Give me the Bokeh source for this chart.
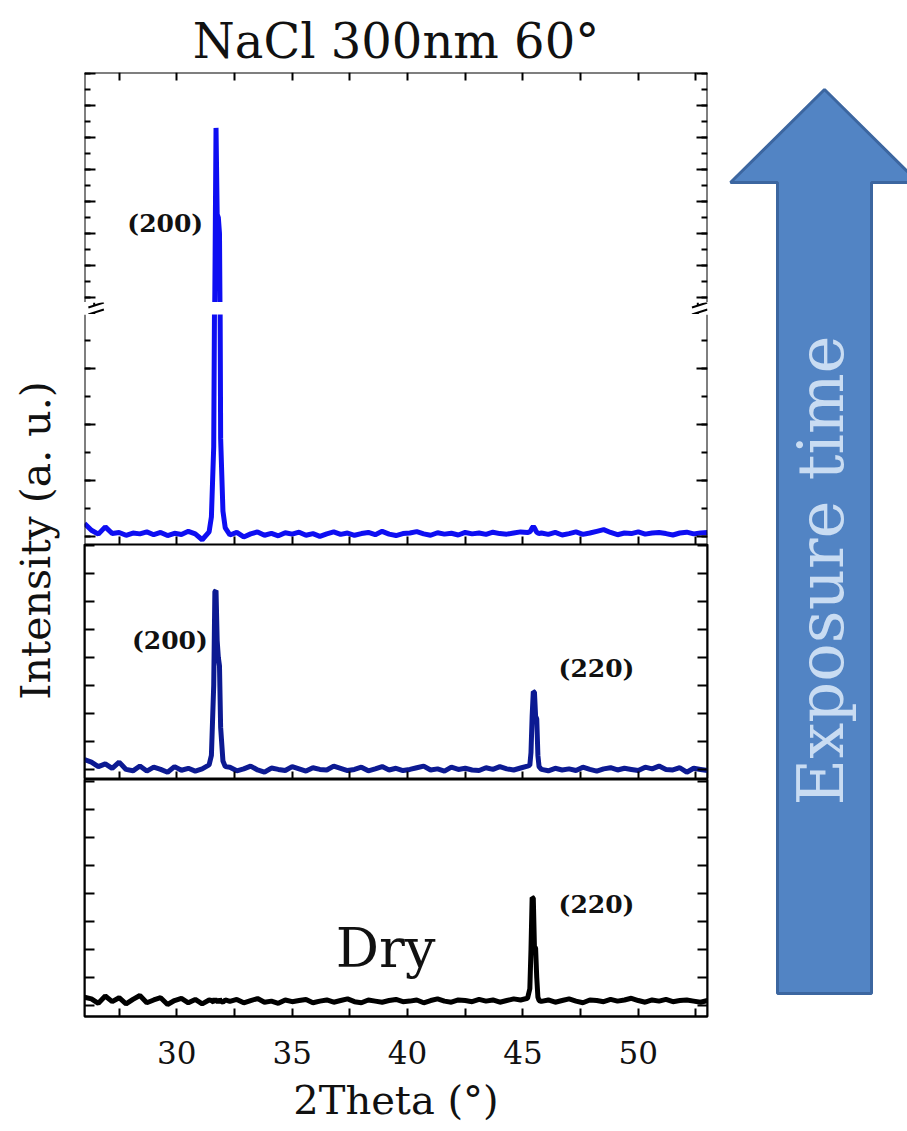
import math
from bokeh.plotting import figure
from bokeh.layouts import row, column
from bokeh.models import (Range1d, LinearAxis, FixedTicker, SingleIntervalTicker,
                          Label, CustomJSTickFormatter, ColumnDataSource)
from bokeh.embed import file_html
from bokeh.resources import INLINE

# ---------------- data ----------------
two_theta = [
    26.0, 26.3, 26.6, 26.9, 27.2, 27.5, 27.8, 28.1, 28.4, 28.7,
    29.0, 29.3, 29.6, 29.9, 30.2, 30.5, 30.8, 31.1, 31.4,
    31.5, 31.6, 31.65, 31.7, 31.75, 31.8, 31.85, 31.9, 32.0, 32.1,
    32.3, 32.6, 32.9, 33.2, 33.5, 33.8, 34.1, 34.4, 34.7, 35.0,
    35.3, 35.6, 35.9, 36.2, 36.5, 36.8, 37.1, 37.4, 37.7, 38.0,
    38.3, 38.6, 38.9, 39.2, 39.5, 39.8, 40.1, 40.4, 40.7, 41.0,
    41.3, 41.6, 41.9, 42.2, 42.5, 42.8, 43.1, 43.4, 43.7, 44.0,
    44.3, 44.6, 44.9, 45.2,
    45.3, 45.35, 45.4, 45.45, 45.5, 45.55, 45.6, 45.65, 45.7,
    45.8, 46.1, 46.4, 46.7, 47.0, 47.3, 47.6, 47.9, 48.2, 48.5,
    48.8, 49.1, 49.4, 49.7, 50.0, 50.3, 50.6, 50.9, 51.2, 51.5,
    51.8, 52.1, 52.4, 52.7, 53.0,
]

intensity_long = [
    46, 22, 8, 34, 10, 14, 4, 12, 9, 16,
    6, 14, 3, 11, 7, 18, 9, -12, 16,
    70, 320, 1050, 2060, 1520, 1500, 1400, 350, 90, 30,
    5, 14, -2, 9, 16, 4, 11, 2, 13, 8,
    15, 4, 10, 0, 9, 16, 7, 12, 4, 10,
    14, 6, 18, 8, 3, 10, 12, 17, 9, 4,
    13, 8, 11, 5, 14, 9, 12, 7, 15, 10,
    8, 12, 16, 14,
    16, 22, 30, 36, 30, 22, 15, 12, 10,
    12, 7, 14, 5, 10, 16, 7, 12, 18, 24,
    14, 6, 12, 10, 16, 8, 12, 14, 10, 5,
    12, 15, 9, 12, 14,
]

intensity_mid = [
    135, 126, 110, 120, 104, 126, 100, 95, 112, 94,
    108, 100, 90, 110, 97, 104, 94, 102, 116,
    150, 400, 735, 739, 560, 500, 470, 250, 130, 110,
    108, 95, 102, 112, 98, 90, 105, 100, 96, 110,
    102, 94, 106, 100, 98, 112, 104, 96, 100, 108,
    95, 102, 110, 98, 104, 96, 100, 106, 112, 98,
    102, 94, 108, 100, 104, 98, 96, 106, 100, 110,
    102, 98, 105, 112,
    115, 160, 290, 378, 376, 290, 280, 150, 110,
    100, 95, 104, 98, 102, 96, 108, 100, 94, 102,
    106, 98, 104, 100, 96, 108, 102, 112, 100, 98,
    106, 90, 104, 100, 96,
]

intensity_dry = [
    130, 124, 108, 134, 114, 128, 106, 122, 136, 110,
    120, 128, 104, 118, 126, 110, 122, 106, 120,
    118, 112, 125, 115, 120, 110, 124, 116, 112, 120,
    115, 122, 110, 118, 125, 112, 116, 108, 120, 114,
    118, 122, 110, 116, 120, 112, 118, 124, 114, 110,
    120, 116, 112, 118, 122, 114, 116, 120, 110, 118,
    124, 116, 112, 120, 118, 114, 122, 116, 120, 112,
    118, 124, 120, 126,
    160, 300, 486, 484, 310, 305, 200, 130, 118,
    115, 120, 112, 118, 124, 116, 110, 120, 118, 114,
    122, 116, 120, 126, 118, 112, 120, 116, 122, 114,
    118, 120, 116, 112, 118,
]

x_major_ticks = [30, 35, 40, 45, 50]
x_minor_ticks = [27.5, 32.5, 37.5, 42.5, 47.5, 52.5]

title_text = "NaCl 300nm 60°"
x_label = "2Theta (°)"
y_label = "Intensity (a. u.)"
arrow_text = "Exposure time"

src = ColumnDataSource(dict(x=two_theta, top=intensity_long, mid=intensity_mid, dry=intensity_dry))

# ---------------- styling / geometry ----------------
SERIF = "DejaVu Serif"
X0, X1 = 26, 53
FRAME_W = 623
SIDE = 10
PX = FRAME_W / (X1 - X0)          # pixels per degree
BLUE = "#0E0EF2"
NAVY = "#0C1A92"
LW = 5

blank = CustomJSTickFormatter(code="return ''")
x_ticker = FixedTicker(ticks=x_major_ticks, minor_ticks=x_minor_ticks)


def base_fig(height, yrng, top=0, bottom=0):
    p = figure(width=FRAME_W + 2 * SIDE, height=height,
               x_range=Range1d(X0, X1), y_range=Range1d(*yrng),
               output_backend="svg", toolbar_location=None,
               x_axis_location=None, y_axis_location=None,
               min_border_left=SIDE, min_border_right=SIDE,
               min_border_top=top, min_border_bottom=bottom)
    p.xgrid.visible = False
    p.ygrid.visible = False
    p.outline_line_color = None
    p.background_fill_color = "white"
    p.border_fill_color = "white"
    return p


def add_y_axes(p, ticker, tin_major, tin_minor, line=True):
    for loc, side in ((X0, "left"), (X1, "right")):
        ax = LinearAxis(ticker=ticker, formatter=blank, fixed_location=loc,
                        major_tick_in=tin_major, major_tick_out=0,
                        minor_tick_in=tin_minor, minor_tick_out=0,
                        major_tick_line_width=2, minor_tick_line_width=2,
                        major_tick_line_color="black", minor_tick_line_color="black",
                        axis_line_width=2,
                        axis_line_color="black" if line else None)
        p.add_layout(ax, side)


def add_x_axis(p, side, loc, line=True):
    ax = LinearAxis(ticker=x_ticker, formatter=blank, fixed_location=loc,
                    major_tick_in=8, major_tick_out=0,
                    minor_tick_in=8, minor_tick_out=0,
                    major_tick_line_width=2, minor_tick_line_width=2,
                    axis_line_width=2,
                    axis_line_color="black" if line else None)
    p.add_layout(ax, side)


def peak_label(p, x, y, text):
    p.add_layout(Label(x=x, y=y, text=text, text_font=SERIF, text_font_style="bold",
                       text_font_size="25px", text_align="center",
                       text_baseline="middle", text_color="#111111"))


# ---- top panel, upper part (above the axis break) ----
up_rng = (968.75, 2406.25)
p_up = base_fig(302, up_rng, top=72)
p_up.title.text = title_text
p_up.title.align = "center"
p_up.title.text_font = SERIF
p_up.title.text_font_size = "48px"
p_up.title.text_font_style = "normal"
p_up.title.text_color = "#111111"
p_up.title.standoff = 8
p_up.line("x", "top", source=src, line_width=LW, color=BLUE)
add_y_axes(p_up, SingleIntervalTicker(interval=200, num_minor_ticks=2), 11, 6)
add_x_axis(p_up, "above", up_rng[1])
peak_label(p_up, 29.5, 1465, "(200)")

# ---- axis break strip ----
gap_h = 12
p_gap = figure(width=FRAME_W + 2 * SIDE, height=gap_h,
               x_range=Range1d(X0 - SIDE / PX, X1 + SIDE / PX), y_range=Range1d(0, gap_h),
               output_backend="svg", toolbar_location=None,
               x_axis_location=None, y_axis_location=None, min_border=0)
p_gap.xgrid.visible = False
p_gap.ygrid.visible = False
p_gap.outline_line_color = None
p_gap.border_fill_color = "white"
for xa in (X0, X1):
    a = xa - 6 / PX
    b = xa + 10 / PX
    p_gap.segment(x0=[a, a], y0=[7.0, 0.0], x1=[b, b], y1=[12.0, 5.0],
                  line_color="black", line_width=2)
    p_gap.segment(x0=[xa, xa], y0=[gap_h, 0], x1=[xa, xa], y1=[8.9, 1.9],
                  line_color="black", line_width=2)

# ---- top panel, lower part ----
low_rng = (-29, 792.4)
p_low = base_fig(230, low_rng)
p_low.line("x", "top", source=src, line_width=LW, color=BLUE)
add_y_axes(p_low, SingleIntervalTicker(interval=200, num_minor_ticks=2), 11, 6)
add_x_axis(p_low, "below", low_rng[0])

# ---- middle panel ----
mid_rng = (64, 903.3)
p_mid = base_fig(235, mid_rng)
p_mid.line("x", "mid", source=src, line_width=LW, color=NAVY)
add_y_axes(p_mid, SingleIntervalTicker(interval=100, num_minor_ticks=0), 10, 0)
add_x_axis(p_mid, "below", mid_rng[0])
peak_label(p_mid, 29.7, 560, "(200)")
peak_label(p_mid, 48.19, 460, "(220)")

# ---- bottom panel (Dry) ----
BOT_BORDER = 115
bot_rng = (61, 907.4)
p_bot = base_fig(237 + BOT_BORDER, bot_rng, bottom=BOT_BORDER)
p_bot.line("x", "dry", source=src, line_width=LW, color="black")
add_y_axes(p_bot, SingleIntervalTicker(interval=100, num_minor_ticks=0), 10, 0)
xb = LinearAxis(ticker=x_ticker, major_tick_in=8, major_tick_out=0,
                minor_tick_in=8, minor_tick_out=0,
                major_tick_line_width=2, minor_tick_line_width=2, axis_line_width=2,
                major_label_standoff=24,
                major_label_text_font=SERIF, major_label_text_font_size="31px",
                major_label_text_color="#111111",
                axis_label=x_label, axis_label_standoff=10,
                axis_label_text_font=SERIF, axis_label_text_font_size="40px",
                axis_label_text_font_style="normal", axis_label_text_color="#111111")
p_bot.add_layout(xb, "below")
peak_label(p_bot, 48.19, 460, "(220)")
p_bot.add_layout(Label(x=39.05, y=304, text="Dry", text_font=SERIF, text_font_size="54px",
                       text_align="center", text_baseline="middle", text_color="#111111"))

# boxes for middle and bottom panels
for p in (p_mid, p_bot):
    p.outline_line_color = "black"
    p.outline_line_width = 2

# ---- y label strip ----
TOTAL_H = 302 + gap_h + 230 + 235 + 237 + BOT_BORDER
YL_W = 74
p_yl = figure(width=YL_W, height=TOTAL_H, x_range=Range1d(0, YL_W), y_range=Range1d(0, TOTAL_H),
              output_backend="svg", toolbar_location=None,
              x_axis_location=None, y_axis_location=None, min_border=0)
p_yl.xgrid.visible = False
p_yl.ygrid.visible = False
p_yl.outline_line_color = None
p_yl.add_layout(Label(x=35, y=TOTAL_H - 540, text=y_label, angle=math.pi / 2,
                      text_font=SERIF, text_font_size="41px", text_align="center",
                      text_baseline="middle", text_color="#111111"))

# ---- "Exposure time" arrow (decoration) ----
AW = 907 - YL_W - (FRAME_W + 2 * SIDE)
p_ar = figure(width=AW, height=TOTAL_H, x_range=Range1d(0, AW), y_range=Range1d(0, TOTAL_H),
              output_backend="svg", toolbar_location=None,
              x_axis_location=None, y_axis_location=None, min_border=0)
p_ar.xgrid.visible = False
p_ar.ygrid.visible = False
p_ar.outline_line_color = None
cx, half_shaft, half_head = 107, 47, 94
tip_y, base_y, foot_y = TOTAL_H - 89, TOTAL_H - 182, TOTAL_H - 993
p_ar.patch([cx, cx + half_head, cx + half_shaft, cx + half_shaft,
            cx - half_shaft, cx - half_shaft, cx - half_head],
           [tip_y, base_y, base_y, foot_y, foot_y, base_y, base_y],
           fill_color="#5284C4", line_color="#3C66A0", line_width=3)
p_ar.add_layout(Label(x=cx - 4, y=TOTAL_H - 570, text=arrow_text, angle=math.pi / 2,
                      text_font=SERIF, text_font_size="64px", text_align="center",
                      text_baseline="middle", text_color="#C9DCF2"))

layout = row(p_yl, column(p_up, p_gap, p_low, p_mid, p_bot, spacing=0), p_ar, spacing=0)

open("out.html", "w").write(file_html(layout, INLINE))
